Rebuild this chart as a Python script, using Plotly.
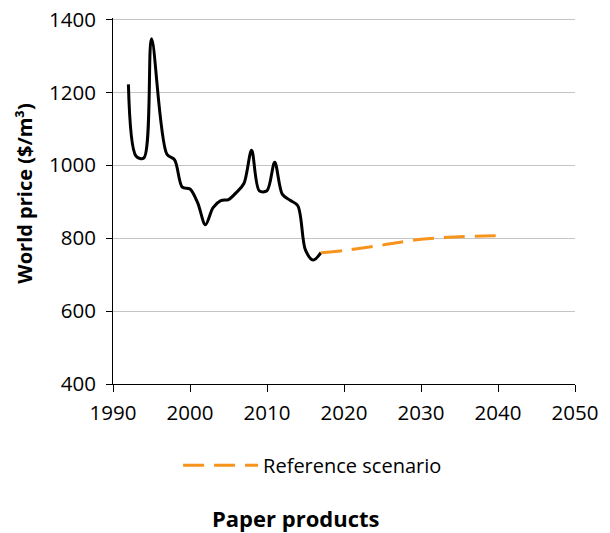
import plotly.graph_objects as go

hist_years = [1992, 1993, 1994, 1995, 1997, 1998, 1999, 2000, 2001, 2002, 2003, 2004, 2005,
              2006, 2007, 2008, 2009, 2010, 2011, 2012, 2013, 2014, 2015, 2016, 2017]
hist_price = [1222, 1025, 1020, 1347, 1030, 1015, 940, 935, 897, 837, 884, 903, 906,
              925, 950, 1041, 930, 930, 1008, 920, 904, 889, 767, 740, 760]

proj_years = [2017, 2020, 2025, 2030, 2035, 2040]
proj_price = [760, 766, 781, 797, 804, 807]

x_ticks = [1990, 2000, 2010, 2020, 2030, 2040, 2050]
y_ticks = [400, 600, 800, 1000, 1200, 1400]

FONT = "Open Sans"

fig = go.Figure()
fig.add_trace(go.Scatter(x=hist_years, y=hist_price, mode="lines",
                         line=dict(color="black", width=3, shape="spline", smoothing=0.9),
                         showlegend=False, hoverinfo="skip"))
fig.add_trace(go.Scatter(x=proj_years, y=proj_price, mode="lines", name="Reference scenario",
                         line=dict(color="#F7941D", width=3, dash="21px,10px", shape="spline")))

fig.update_layout(
    width=610, height=533,
    margin=dict(l=113, r=35, t=18, b=149, autoexpand=False),
    paper_bgcolor="white", plot_bgcolor="white",
    font=dict(family=FONT, size=20, color="black"),
    showlegend=True,
    legend=dict(orientation="h", x=0.432, xanchor="center", y=-0.222, yanchor="middle",
                itemwidth=75, font=dict(size=20, family=FONT)),
    annotations=[
        dict(text="<b>Paper products</b>", x=0.397, y=-0.367, xref="paper", yref="paper",
             xanchor="center", yanchor="middle", showarrow=False,
             font=dict(size=22, family=FONT)),
        dict(text="<b>World price ($/m³)</b>", x=-0.1905, y=0.52, xref="paper", yref="paper",
             xanchor="center", yanchor="middle", showarrow=False, textangle=-90,
             font=dict(size=20, family=FONT)),
    ],
)
fig.update_xaxes(range=[1990, 2050], tickvals=x_ticks, showgrid=False,
                 showline=True, linecolor="black", linewidth=1, automargin=False,
                 ticks="outside", ticklen=7, tickcolor="black", zeroline=False,
                 ticklabelstandoff=3, ticklabeloverflow="allow",
                 tickfont=dict(size=20.5))
fig.update_yaxes(range=[400, 1404], tickvals=y_ticks, showgrid=True, gridcolor="#c4c4c4", gridwidth=1,
                 showline=True, linecolor="black", linewidth=1, automargin=False,
                 ticks="outside", ticklen=6, tickcolor="black", zeroline=False,
                 ticklabelstandoff=6, ticklabeloverflow="allow",
                 tickfont=dict(size=20.5))

fig.write_html("out.html", config={"displayModeBar": False},
               post_script="document.body.style.margin='0px';")
